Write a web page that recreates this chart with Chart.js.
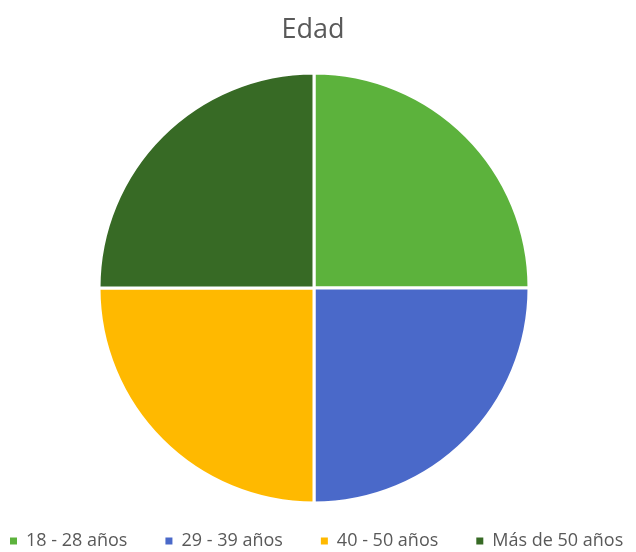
<!DOCTYPE html>
<html>
<head>
<meta charset="utf-8">
<script src="https://cdn.jsdelivr.net/npm/chart.js@4/dist/chart.umd.min.js"></script>
<style>
html,body{margin:0;padding:0;background:#fff;}
#wrap{width:636px;height:552px;position:relative;}
</style>
</head>
<body>
<div id="wrap"><canvas id="c" width="636" height="552"></canvas></div>
<script>
const chartTitle = "Edad";
const categories = ["18 - 28 años", "29 - 39 años", "40 - 50 años", "Más de 50 años"];
const values = [25, 25, 25, 25];
const colors = ["#5CB23C", "#4A69C9", "#FFB900", "#376A25"];

// Place the pie area and legend row as in the reference
const placement = {
  id: "placement",
  afterLayout(chart) {
    const lg = chart.legend;
    const P = lg.options.labels.padding;
    lg.left = 10 - P;
    lg.right = 5000;
    lg.top = 541 - P - 9;
    lg.bottom = lg.top + lg.height;
    chart.chartArea = { left: 0, top: 58, right: 628, bottom: 518, width: 628, height: 460 };
  }
};

new Chart(document.getElementById("c"), {
  type: "pie",
  data: {
    labels: categories,
    datasets: [{
      data: values,
      backgroundColor: colors,
      borderColor: "#ffffff",
      borderWidth: 3
    }]
  },
  options: {
    responsive: false,
    animation: false,
    radius: 215,
    layout: { padding: { right: 10 } },
    plugins: {
      tooltip: { enabled: false },
      title: {
        display: true,
        text: chartTitle,
        color: "#595959",
        font: { family: "Open Sans", size: 27, weight: "normal" },
        padding: { top: 14, bottom: 10 }
      },
      legend: {
        position: "bottom",
        align: "start",
        labels: {
          color: "#595959",
          font: { family: "Open Sans", size: 18 },
          boxWidth: 7,
          boxHeight: 7,
          padding: 38,
          generateLabels(chart) {
            const items = Chart.overrides.pie.plugins.legend.labels.generateLabels(chart);
            return items.map(it => Object.assign(it, { lineWidth: 0, strokeStyle: it.fillStyle }));
          }
        }
      }
    }
  },
  plugins: [placement]
});
</script>
</body>
</html>
